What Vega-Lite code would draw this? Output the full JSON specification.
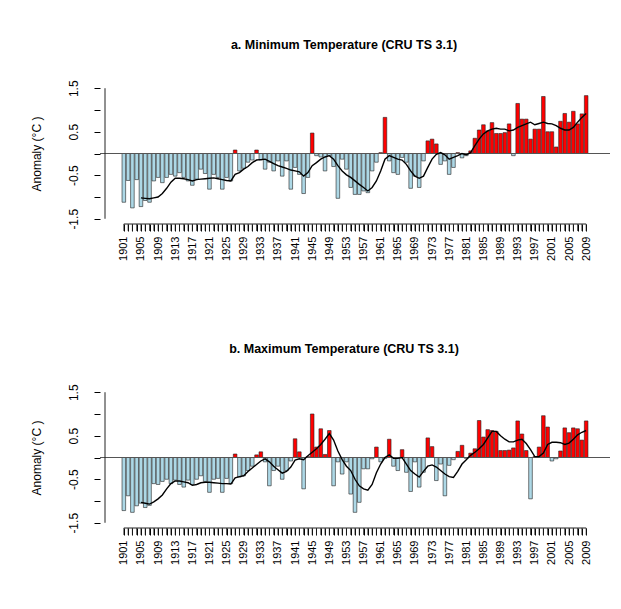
{
"$schema": "https://vega.github.io/schema/vega-lite/v6.json",
"padding": {"left": 29, "top": 39, "right": 5, "bottom": 5},
"background": "white",
"config": {"font": "Liberation Sans", "view": {"stroke": null}, "concat": {"spacing": 82}, "axis": {"labelOverlap": false, "labelBound": false, "labelFlush": false, "grid": false, "tickCount": 500, "ticks": true, "tickWidth": 1, "tickColor": "black"}},
"datasets": {"t": [
{"year":1901,"tmin":-1.12,"tmax":-1.22,"tmin_s":null,"tmax_s":null},
{"year":1902,"tmin":-0.62,"tmax":-0.88,"tmin_s":null,"tmax_s":null},
{"year":1903,"tmin":-1.25,"tmax":-1.26,"tmin_s":null,"tmax_s":null},
{"year":1904,"tmin":-0.6,"tmax":-1.11,"tmin_s":null,"tmax_s":null},
{"year":1905,"tmin":-1.22,"tmax":-1.05,"tmin_s":-1.02,"tmax_s":-1.03},
{"year":1906,"tmin":-1.08,"tmax":-1.15,"tmin_s":-1.03,"tmax_s":-1.05},
{"year":1907,"tmin":-1.12,"tmax":-1.1,"tmin_s":-1.04,"tmax_s":-1.07},
{"year":1908,"tmin":-0.63,"tmax":-0.6,"tmin_s":-1.02,"tmax_s":-1.02},
{"year":1909,"tmin":-0.55,"tmax":-0.62,"tmin_s":-1.0,"tmax_s":-0.95},
{"year":1910,"tmin":-0.67,"tmax":-0.55,"tmin_s":-0.92,"tmax_s":-0.86},
{"year":1911,"tmin":-0.55,"tmax":-0.5,"tmin_s":-0.8,"tmax_s":-0.72},
{"year":1912,"tmin":-0.48,"tmax":-0.6,"tmin_s":-0.66,"tmax_s":-0.6},
{"year":1913,"tmin":-0.52,"tmax":-0.52,"tmin_s":-0.57,"tmax_s":-0.54},
{"year":1914,"tmin":-0.44,"tmax":-0.62,"tmin_s":-0.57,"tmax_s":-0.54},
{"year":1915,"tmin":-0.55,"tmax":-0.68,"tmin_s":-0.58,"tmax_s":-0.56},
{"year":1916,"tmin":-0.63,"tmax":-0.52,"tmin_s":-0.6,"tmax_s":-0.58},
{"year":1917,"tmin":-0.73,"tmax":-0.62,"tmin_s":-0.63,"tmax_s":-0.64},
{"year":1918,"tmin":-0.59,"tmax":-0.5,"tmin_s":-0.6,"tmax_s":-0.62},
{"year":1919,"tmin":-0.36,"tmax":-0.42,"tmin_s":-0.59,"tmax_s":-0.58},
{"year":1920,"tmin":-0.46,"tmax":-0.55,"tmin_s":-0.58,"tmax_s":-0.57},
{"year":1921,"tmin":-0.82,"tmax":-0.8,"tmin_s":-0.57,"tmax_s":-0.57},
{"year":1922,"tmin":-0.48,"tmax":-0.5,"tmin_s":-0.56,"tmax_s":-0.58},
{"year":1923,"tmin":-0.55,"tmax":-0.48,"tmin_s":-0.58,"tmax_s":-0.59},
{"year":1924,"tmin":-0.82,"tmax":-0.8,"tmin_s":-0.6,"tmax_s":-0.6},
{"year":1925,"tmin":-0.55,"tmax":-0.48,"tmin_s":-0.62,"tmax_s":-0.6},
{"year":1926,"tmin":-0.63,"tmax":-0.6,"tmin_s":-0.63,"tmax_s":-0.61},
{"year":1927,"tmin":0.08,"tmax":0.08,"tmin_s":-0.48,"tmax_s":-0.47},
{"year":1928,"tmin":-0.4,"tmax":-0.45,"tmin_s":-0.44,"tmax_s":-0.44},
{"year":1929,"tmin":-0.34,"tmax":-0.42,"tmin_s":-0.36,"tmax_s":-0.42},
{"year":1930,"tmin":-0.2,"tmax":-0.3,"tmin_s":-0.3,"tmax_s":-0.32},
{"year":1931,"tmin":-0.15,"tmax":-0.2,"tmin_s":-0.21,"tmax_s":-0.24},
{"year":1932,"tmin":0.08,"tmax":0.06,"tmin_s":-0.15,"tmax_s":-0.16},
{"year":1933,"tmin":-0.15,"tmax":0.13,"tmin_s":-0.14,"tmax_s":-0.08},
{"year":1934,"tmin":-0.36,"tmax":-0.1,"tmin_s":-0.13,"tmax_s":-0.03},
{"year":1935,"tmin":-0.2,"tmax":-0.65,"tmin_s":-0.18,"tmax_s":-0.1},
{"year":1936,"tmin":-0.4,"tmax":-0.3,"tmin_s":-0.23,"tmax_s":-0.2},
{"year":1937,"tmin":-0.17,"tmax":-0.2,"tmin_s":-0.28,"tmax_s":-0.28},
{"year":1938,"tmin":-0.52,"tmax":-0.5,"tmin_s":-0.31,"tmax_s":-0.36},
{"year":1939,"tmin":-0.17,"tmax":-0.3,"tmin_s":-0.34,"tmax_s":-0.32},
{"year":1940,"tmin":-0.82,"tmax":-0.08,"tmin_s":-0.38,"tmax_s":-0.22},
{"year":1941,"tmin":-0.32,"tmax":0.43,"tmin_s":-0.4,"tmax_s":-0.06},
{"year":1942,"tmin":-0.48,"tmax":0.13,"tmin_s":-0.42,"tmax_s":-0.03},
{"year":1943,"tmin":-0.92,"tmax":-0.72,"tmin_s":-0.52,"tmax_s":-0.05},
{"year":1944,"tmin":-0.55,"tmax":0.02,"tmin_s":-0.44,"tmax_s":0.04},
{"year":1945,"tmin":0.47,"tmax":1.0,"tmin_s":-0.28,"tmax_s":0.12},
{"year":1946,"tmin":-0.05,"tmax":0.24,"tmin_s":-0.21,"tmax_s":0.2},
{"year":1947,"tmin":-0.08,"tmax":0.66,"tmin_s":-0.13,"tmax_s":0.3},
{"year":1948,"tmin":-0.4,"tmax":0.07,"tmin_s":-0.08,"tmax_s":0.42},
{"year":1949,"tmin":-0.05,"tmax":0.62,"tmin_s":-0.05,"tmax_s":0.55},
{"year":1950,"tmin":-0.3,"tmax":-0.65,"tmin_s":-0.13,"tmax_s":0.4},
{"year":1951,"tmin":-1.03,"tmax":-0.1,"tmin_s":-0.28,"tmax_s":0.15},
{"year":1952,"tmin":-0.13,"tmax":-0.38,"tmin_s":-0.4,"tmax_s":-0.05},
{"year":1953,"tmin":-0.36,"tmax":-0.1,"tmin_s":-0.49,"tmax_s":-0.2},
{"year":1954,"tmin":-0.78,"tmax":-0.84,"tmin_s":-0.55,"tmax_s":-0.3},
{"year":1955,"tmin":-0.94,"tmax":-1.26,"tmin_s":-0.63,"tmax_s":-0.5},
{"year":1956,"tmin":-0.94,"tmax":-1.03,"tmin_s":-0.71,"tmax_s":-0.65},
{"year":1957,"tmin":-0.86,"tmax":-0.26,"tmin_s":-0.78,"tmax_s":-0.72},
{"year":1958,"tmin":-0.9,"tmax":-0.26,"tmin_s":-0.86,"tmax_s":-0.75},
{"year":1959,"tmin":-0.4,"tmax":-0.03,"tmin_s":-0.78,"tmax_s":-0.62},
{"year":1960,"tmin":-0.2,"tmax":0.24,"tmin_s":-0.63,"tmax_s":-0.35},
{"year":1961,"tmin":0.02,"tmax":-0.1,"tmin_s":-0.4,"tmax_s":-0.15},
{"year":1962,"tmin":0.83,"tmax":-0.02,"tmin_s":-0.13,"tmax_s":0.0},
{"year":1963,"tmin":-0.17,"tmax":0.42,"tmin_s":-0.05,"tmax_s":0.06},
{"year":1964,"tmin":-0.44,"tmax":-0.2,"tmin_s":-0.09,"tmax_s":-0.02},
{"year":1965,"tmin":-0.48,"tmax":-0.3,"tmin_s":-0.13,"tmax_s":-0.02},
{"year":1966,"tmin":-0.09,"tmax":0.18,"tmin_s":-0.15,"tmax_s":0.0},
{"year":1967,"tmin":-0.2,"tmax":-0.34,"tmin_s":-0.25,"tmax_s":-0.15},
{"year":1968,"tmin":-0.8,"tmax":-0.78,"tmin_s":-0.4,"tmax_s":-0.3},
{"year":1969,"tmin":-0.52,"tmax":-0.1,"tmin_s":-0.52,"tmax_s":-0.38},
{"year":1970,"tmin":-0.78,"tmax":-0.68,"tmin_s":-0.57,"tmax_s":-0.45},
{"year":1971,"tmin":-0.17,"tmax":-0.34,"tmin_s":-0.52,"tmax_s":-0.32},
{"year":1972,"tmin":0.29,"tmax":0.45,"tmin_s":-0.32,"tmax_s":-0.2},
{"year":1973,"tmin":0.33,"tmax":0.25,"tmin_s":-0.13,"tmax_s":-0.17},
{"year":1974,"tmin":0.22,"tmax":-0.53,"tmin_s":-0.02,"tmax_s":-0.22},
{"year":1975,"tmin":-0.25,"tmax":-0.15,"tmin_s":0.02,"tmax_s":-0.3},
{"year":1976,"tmin":-0.17,"tmax":-0.88,"tmin_s":-0.03,"tmax_s":-0.38},
{"year":1977,"tmin":-0.48,"tmax":-0.18,"tmin_s":-0.13,"tmax_s":-0.44},
{"year":1978,"tmin":-0.32,"tmax":-0.05,"tmin_s":-0.09,"tmax_s":-0.46},
{"year":1979,"tmin":0.02,"tmax":0.14,"tmin_s":-0.05,"tmax_s":-0.32},
{"year":1980,"tmin":-0.1,"tmax":0.28,"tmin_s":0.0,"tmax_s":-0.15},
{"year":1981,"tmin":-0.05,"tmax":-0.02,"tmin_s":-0.03,"tmax_s":-0.05},
{"year":1982,"tmin":0.06,"tmax":0.1,"tmin_s":0.02,"tmax_s":0.05},
{"year":1983,"tmin":0.35,"tmax":0.2,"tmin_s":0.18,"tmax_s":0.12},
{"year":1984,"tmin":0.54,"tmax":0.85,"tmin_s":0.33,"tmax_s":0.2},
{"year":1985,"tmin":0.66,"tmax":0.47,"tmin_s":0.45,"tmax_s":0.3},
{"year":1986,"tmin":0.52,"tmax":0.64,"tmin_s":0.52,"tmax_s":0.45},
{"year":1987,"tmin":0.71,"tmax":0.62,"tmin_s":0.56,"tmax_s":0.6},
{"year":1988,"tmin":0.46,"tmax":0.6,"tmin_s":0.58,"tmax_s":0.6},
{"year":1989,"tmin":0.46,"tmax":0.16,"tmin_s":0.56,"tmax_s":0.5},
{"year":1990,"tmin":0.48,"tmax":0.16,"tmin_s":0.56,"tmax_s":0.42},
{"year":1991,"tmin":0.68,"tmax":0.17,"tmin_s":0.52,"tmax_s":0.36},
{"year":1992,"tmin":-0.05,"tmax":0.22,"tmin_s":0.54,"tmax_s":0.36},
{"year":1993,"tmin":1.15,"tmax":0.84,"tmin_s":0.6,"tmax_s":0.4},
{"year":1994,"tmin":0.79,"tmax":0.54,"tmin_s":0.64,"tmax_s":0.42},
{"year":1995,"tmin":0.79,"tmax":0.16,"tmin_s":0.68,"tmax_s":0.32},
{"year":1996,"tmin":0.33,"tmax":-0.95,"tmin_s":0.72,"tmax_s":0.18},
{"year":1997,"tmin":0.56,"tmax":0.02,"tmin_s":0.66,"tmax_s":0.02},
{"year":1998,"tmin":0.56,"tmax":0.24,"tmin_s":0.69,"tmax_s":0.02},
{"year":1999,"tmin":1.31,"tmax":0.96,"tmin_s":0.72,"tmax_s":0.1},
{"year":2000,"tmin":0.5,"tmax":0.7,"tmin_s":0.69,"tmax_s":0.3},
{"year":2001,"tmin":0.5,"tmax":-0.08,"tmin_s":0.68,"tmax_s":0.35},
{"year":2002,"tmin":0.15,"tmax":-0.03,"tmin_s":0.64,"tmax_s":0.35},
{"year":2003,"tmin":0.74,"tmax":0.15,"tmin_s":0.58,"tmax_s":0.34},
{"year":2004,"tmin":0.92,"tmax":0.68,"tmin_s":0.54,"tmax_s":0.3},
{"year":2005,"tmin":0.72,"tmax":0.57,"tmin_s":0.54,"tmax_s":0.33},
{"year":2006,"tmin":0.97,"tmax":0.68,"tmin_s":0.6,"tmax_s":0.42},
{"year":2007,"tmin":0.68,"tmax":0.66,"tmin_s":0.72,"tmax_s":0.52},
{"year":2008,"tmin":0.91,"tmax":0.4,"tmin_s":0.83,"tmax_s":0.58},
{"year":2009,"tmin":1.33,"tmax":0.84,"tmin_s":0.92,"tmax_s":0.62}
]},
"vconcat": [
{
"width": 510, "height": 141,
"title": {"text": "a. Minimum Temperature (CRU TS 3.1)", "fontSize": 12.5, "fontWeight": "bold", "offset": 28, "anchor": "middle", "dx": -11, "color": "black"},
"layer": [
{"data": {"name": "t"},
 "mark": {"type": "bar", "size": 3.6, "stroke": "#222222", "strokeWidth": 0.6},
 "encoding": {
  "x": {"field": "year", "type": "quantitative", "scale": {"domain": [1896.6, 2013.4], "nice": false, "zero": false},
   "axis": {"values": [1901,1902,1903,1904,1905,1906,1907,1908,1909,1910,1911,1912,1913,1914,1915,1916,1917,1918,1919,1920,1921,1922,1923,1924,1925,1926,1927,1928,1929,1930,1931,1932,1933,1934,1935,1936,1937,1938,1939,1940,1941,1942,1943,1944,1945,1946,1947,1948,1949,1950,1951,1952,1953,1954,1955,1956,1957,1958,1959,1960,1961,1962,1963,1964,1965,1966,1967,1968,1969,1970,1971,1972,1973,1974,1975,1976,1977,1978,1979,1980,1981,1982,1983,1984,1985,1986,1987,1988,1989,1990,1991,1992,1993,1994,1995,1996,1997,1998,1999,2000,2001,2002,2003,2004,2005,2006,2007,2008,2009],
    "tickCount": 500,
    "labelExpr": "(datum.value - 1901) % 4 == 0 ? '' + datum.value : ''",
    "labelAngle": -90, "labelAlign": "right", "labelBaseline": "middle", "labelFontSize": 11, "labelColor": "black",
    "tickSize": 7, "tickColor": "black", "tickWidth": 1, "labelPadding": 5, "domain": false, "grid": false, "title": null,
    "labelOverlap": false, "labelBound": false, "labelFlush": false}},
  "y": {"field": "tmin", "type": "quantitative", "scale": {"domain": [-1.62, 1.62], "nice": false},
   "axis": {"values": [-1.5,-1,-0.5,0,0.5,1,1.5], "tickCount": 50,
    "labelExpr": "abs(datum.value) == 0.5 || abs(datum.value) == 1.5 ? (datum.value < 0 ? '-' : '') + format(abs(datum.value), '.1f') : ''",
    "labelAngle": -90, "labelAlign": "center", "labelBaseline": "bottom", "labelFontSize": 12, "labelColor": "black",
    "tickSize": 6, "tickColor": "black", "labelPadding": 14, "domain": false, "grid": false,
    "title": "Anomaly (°C )", "titleFontSize": 12, "titleFontWeight": "normal", "titleColor": "black", "titlePadding": 24,
    "labelOverlap": false}},
  "y2": {"datum": 0},
  "fill": {"condition": {"test": "datum.tmin > 0", "value": "#FF0000"}, "value": "#ADD8E6"}
 }},
{"data": {"values": [{}]}, "mark": {"type": "rule", "color": "#555555", "strokeWidth": 1}, "encoding": {"y": {"datum": 0}}},
{"data": {"name": "t"}, "mark": {"type": "line", "color": "black", "strokeWidth": 1.4},
 "encoding": {"x": {"field": "year", "type": "quantitative"}, "y": {"field": "tmin_s", "type": "quantitative"}}},
{"data": {"name": "t"}, "mark": {"type": "rule", "color": "#222222", "strokeWidth": 0.8, "clip": false},
 "encoding": {"x": {"field": "year", "type": "quantitative"}, "y": {"datum": -1.62}, "y2": {"datum": -1.78}}},
{"data": {"values": [{}]}, "mark": {"type": "rule", "color": "#222222", "strokeWidth": 1},
 "encoding": {"x": {"datum": 1901}, "x2": {"datum": 2009}, "y": {"datum": -1.62}}},
{"data": {"values": [{}]}, "mark": {"type": "rule", "color": "#222222", "strokeWidth": 1},
 "encoding": {"x": {"datum": 1896.6}, "y": {"datum": -1.5}, "y2": {"datum": 1.5}}}
]
},
{
"width": 510, "height": 141,
"title": {"text": "b. Maximum Temperature (CRU TS 3.1)", "fontSize": 12.5, "fontWeight": "bold", "offset": 28, "anchor": "middle", "dx": -11, "color": "black"},
"layer": [
{"data": {"name": "t"},
 "mark": {"type": "bar", "size": 3.6, "stroke": "#222222", "strokeWidth": 0.6},
 "encoding": {
  "x": {"field": "year", "type": "quantitative", "scale": {"domain": [1896.6, 2013.4], "nice": false, "zero": false},
   "axis": {"values": [1901,1902,1903,1904,1905,1906,1907,1908,1909,1910,1911,1912,1913,1914,1915,1916,1917,1918,1919,1920,1921,1922,1923,1924,1925,1926,1927,1928,1929,1930,1931,1932,1933,1934,1935,1936,1937,1938,1939,1940,1941,1942,1943,1944,1945,1946,1947,1948,1949,1950,1951,1952,1953,1954,1955,1956,1957,1958,1959,1960,1961,1962,1963,1964,1965,1966,1967,1968,1969,1970,1971,1972,1973,1974,1975,1976,1977,1978,1979,1980,1981,1982,1983,1984,1985,1986,1987,1988,1989,1990,1991,1992,1993,1994,1995,1996,1997,1998,1999,2000,2001,2002,2003,2004,2005,2006,2007,2008,2009],
    "tickCount": 500,
    "labelExpr": "(datum.value - 1901) % 4 == 0 ? '' + datum.value : ''",
    "labelAngle": -90, "labelAlign": "right", "labelBaseline": "middle", "labelFontSize": 11, "labelColor": "black",
    "tickSize": 7, "tickColor": "black", "tickWidth": 1, "labelPadding": 5, "domain": false, "grid": false, "title": null,
    "labelOverlap": false, "labelBound": false, "labelFlush": false}},
  "y": {"field": "tmax", "type": "quantitative", "scale": {"domain": [-1.62, 1.62], "nice": false},
   "axis": {"values": [-1.5,-1,-0.5,0,0.5,1,1.5], "tickCount": 50,
    "labelExpr": "abs(datum.value) == 0.5 || abs(datum.value) == 1.5 ? (datum.value < 0 ? '-' : '') + format(abs(datum.value), '.1f') : ''",
    "labelAngle": -90, "labelAlign": "center", "labelBaseline": "bottom", "labelFontSize": 12, "labelColor": "black",
    "tickSize": 6, "tickColor": "black", "labelPadding": 14, "domain": false, "grid": false,
    "title": "Anomaly (°C )", "titleFontSize": 12, "titleFontWeight": "normal", "titleColor": "black", "titlePadding": 24,
    "labelOverlap": false}},
  "y2": {"datum": 0},
  "fill": {"condition": {"test": "datum.tmax > 0", "value": "#FF0000"}, "value": "#ADD8E6"}
 }},
{"data": {"values": [{}]}, "mark": {"type": "rule", "color": "#555555", "strokeWidth": 1}, "encoding": {"y": {"datum": 0}}},
{"data": {"name": "t"}, "mark": {"type": "line", "color": "black", "strokeWidth": 1.4},
 "encoding": {"x": {"field": "year", "type": "quantitative"}, "y": {"field": "tmax_s", "type": "quantitative"}}},
{"data": {"name": "t"}, "mark": {"type": "rule", "color": "#222222", "strokeWidth": 0.8, "clip": false},
 "encoding": {"x": {"field": "year", "type": "quantitative"}, "y": {"datum": -1.62}, "y2": {"datum": -1.78}}},
{"data": {"values": [{}]}, "mark": {"type": "rule", "color": "#222222", "strokeWidth": 1},
 "encoding": {"x": {"datum": 1901}, "x2": {"datum": 2009}, "y": {"datum": -1.62}}},
{"data": {"values": [{}]}, "mark": {"type": "rule", "color": "#222222", "strokeWidth": 1},
 "encoding": {"x": {"datum": 1896.6}, "y": {"datum": -1.5}, "y2": {"datum": 1.5}}}
]
}
]
}
